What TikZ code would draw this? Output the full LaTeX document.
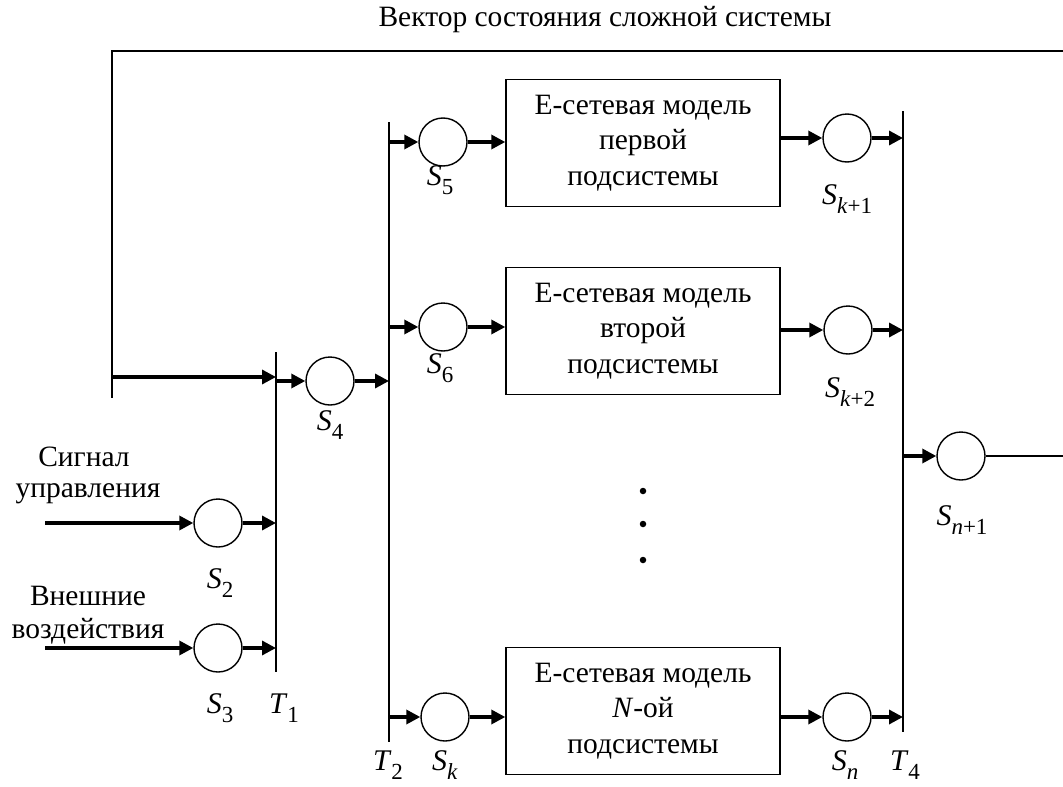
\documentclass[tikz,border=0pt]{standalone}
\usepackage{fontspec}
\setmainfont{Liberation Serif}
\usetikzlibrary{arrows.meta}
\newcommand{\Sv}[1]{\textit{S}\raisebox{-0.28em}{\fontsize{23}{23}\selectfont #1}}
\newcommand{\Tv}[1]{\textit{T}\raisebox{-0.28em}{\fontsize{23}{23}\selectfont #1}}
\begin{document}
\begin{tikzpicture}[x=1pt,y=-1pt,
  place/.style={circle,draw,line width=1.4pt,minimum size=48pt,inner sep=0pt},
  model/.style={draw,line width=1.4pt,minimum width=274pt,minimum height=127pt,align=center,inner sep=0pt,font=\fontsize{29.5}{35.5}\selectfont},
  lbl/.style={font=\fontsize{30}{34}\selectfont,inner sep=0pt},
  txt/.style={font=\fontsize{29.5}{37}\selectfont,inner sep=0pt,align=center},
  bar/.style={line width=1.6pt},
  wire/.style={line width=1.6pt},
  arr/.style={line width=3.3pt,-{Triangle[length=14pt,width=14pt]}},
  dot/.style={circle,fill,inner sep=0pt,minimum size=6.5pt}]
\useasboundingbox (0,0) rectangle (1063,787);
% title
\node[txt] (title) at (605,20) {Вектор состояния сложной системы};
% places
\node[place] (c2) at (218,523) {};
\node[place] (c3) at (218,648) {};
\node[place] (c4) at (330,381) {};
\node[place] (c5) at (443,142) {};
\node[place] (c6) at (443,327) {};
\node[place] (ck) at (445,717) {};
\node[place] (ck1) at (847,138) {};
\node[place] (ck2) at (848,330) {};
\node[place] (cn) at (847,717) {};
\node[place] (cn1) at (961,456) {};
% models
\node[model] (m1) at (643,143) {Е-сетевая модель\\первой\\подсистемы};
\node[model] (m2) at (643,331) {Е-сетевая модель\\второй\\подсистемы};
\node[model] (m3) at (643,711) {Е-сетевая модель\\\textit{N}-ой\\подсистемы};
% dots
\node[dot] (d1) at (643,491) {};
\node[dot] (d2) at (643,524) {};
\node[dot] (d3) at (643,560) {};
% transitions
\coordinate (t1a) at (276,352); \coordinate (t1b) at (276,672);
\coordinate (t2a) at (389,122); \coordinate (t2b) at (389,742);
\coordinate (t4a) at (903,111); \coordinate (t4b) at (903,732);
\draw[bar] (t1a) -- (t1b);
\draw[bar] (t2a) -- (t2b);
\draw[bar] (t4a) -- (t4b);
% feedback loop
\coordinate (fbR) at (1063,51);
\coordinate (fbL) at (112,51);
\coordinate (fbB) at (112,398);
\coordinate (fbA) at (112,377);
\coordinate (outR) at (1063,456);
\draw[wire] (fbR) -- (fbL) -- (fbB);
\draw[arr] (fbA) -- (fbA -| t1a);
% inputs
\coordinate (in2) at (45,523);
\coordinate (in3) at (45,648);
\draw[arr] (in2) -- (c2.west);
\draw[arr] (in3) -- (c3.west);
\draw[arr] (c2.east) -- (c2.east -| t1a);
\draw[arr] (c3.east) -- (c3.east -| t1a);
% T1 -> S4 -> T2
\draw[arr] (c4.west -| t1a) -- (c4.west);
\draw[arr] (c4.east) -- (c4.east -| t2a);
% T2 -> places -> models
\draw[arr] (c5.west -| t2a) -- (c5.west);
\draw[arr] (c6.west -| t2a) -- (c6.west);
\draw[arr] (ck.west -| t2a) -- (ck.west);
\draw[arr] (c5.east) -- (c5.east -| m1.west);
\draw[arr] (c6.east) -- (c6.east -| m2.west);
\draw[arr] (ck.east) -- (ck.east -| m3.west);
% models -> places -> T4
\draw[arr] (ck1.west -| m1.east) -- (ck1.west);
\draw[arr] (ck2.west -| m2.east) -- (ck2.west);
\draw[arr] (cn.west -| m3.east) -- (cn.west);
\draw[arr] (ck1.east) -- (ck1.east -| t4a);
\draw[arr] (ck2.east) -- (ck2.east -| t4a);
\draw[arr] (cn.east) -- (cn.east -| t4a);
% T4 -> S_{n+1} -> out
\draw[arr] (cn1.west -| t4a) -- (cn1.west);
\draw[wire] (cn1.east) -- (outR);
% input texts
\node[txt] (sig1) at (84,457) {Сигнал};
\node[txt] (sig2) at (88,494) {управления};
\node[txt] (ext1) at (88,596) {Внешние};
\node[txt] (ext2) at (88,631) {воздействия};
% labels
\node[lbl] (l2) at (220,583) {\Sv{2}};
\node[lbl] (l3) at (220,708) {\Sv{3}};
\node[lbl] (lt1) at (284,708) {\Tv{1}};
\node[lbl] (l4) at (330,425) {\Sv{4}};
\node[lbl] (l5) at (440,180) {\Sv{5}};
\node[lbl] (l6) at (440,368) {\Sv{6}};
\node[lbl] (lk) at (445,765) {\Sv{\textit{k}}};
\node[lbl] (lt2) at (388,765) {\Tv{2}};
\node[lbl] (lk1) at (847,199) {\Sv{\textit{k}+1}};
\node[lbl] (lk2) at (850,392) {\Sv{\textit{k}+2}};
\node[lbl] (ln) at (845,765) {\Sv{\textit{n}}};
\node[lbl] (lt4) at (905,765) {\Tv{4}};
\node[lbl] (ln1) at (962,520) {\Sv{\textit{n}+1}};
\end{tikzpicture}
\end{document}
